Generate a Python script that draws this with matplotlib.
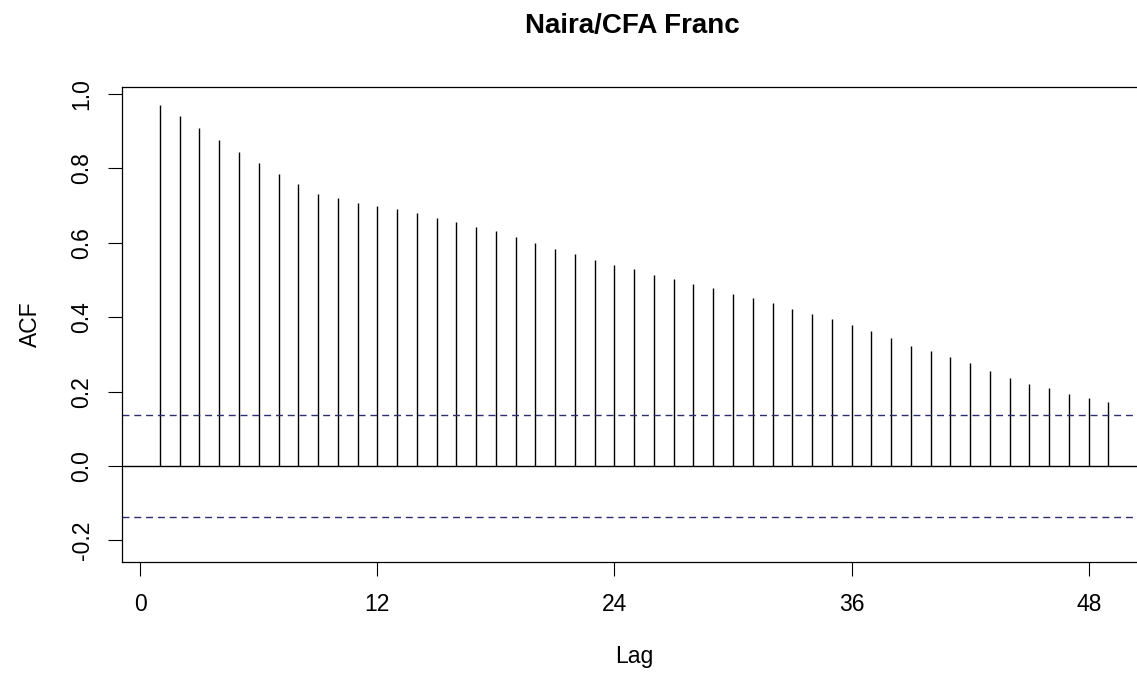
import matplotlib
matplotlib.use('Agg')
import matplotlib.pyplot as plt

# ACF values
lags = list(range(1, 50))
acf_vals = [0.970, 0.941, 0.908, 0.876, 0.845, 0.814, 0.786, 0.757, 0.730, 0.720,
            0.706, 0.699, 0.690, 0.679, 0.668, 0.656, 0.643, 0.632, 0.616, 0.600,
            0.584, 0.569, 0.553, 0.541, 0.529, 0.513, 0.502, 0.490, 0.478, 0.462,
            0.451, 0.439, 0.423, 0.410, 0.395, 0.379, 0.364, 0.343, 0.324, 0.309,
            0.292, 0.276, 0.256, 0.237, 0.221, 0.209, 0.194, 0.182, 0.171]
conf_bound = 0.136
x_ticks = [0, 12, 24, 36, 48]
y_ticks = [-0.2, 0.0, 0.2, 0.4, 0.6, 0.8, 1.0]
y_tick_labels = ['-0.2', '0.0', '0.2', '0.4', '0.6', '0.8', '1.0']

plt.rcParams['font.family'] = ['Liberation Sans', 'DejaVu Sans']

W, H = 1137, 677
fig = plt.figure(figsize=(W / 100, H / 100), dpi=100)
# plot box in pixels: left 122, top 87, bottom 562, right runs past the image edge
ax = fig.add_axes([122 / W, (H - 562) / H, (1146.4 - 122) / W, (562 - 87) / H])

ax.vlines(lags, 0, acf_vals, color='black', linewidth=1.0)
ax.axhline(0, color='black', linewidth=1.0)
for b in (conf_bound, -conf_bound):
    ax.axhline(b, color='#2e2e6e', linewidth=1.0, linestyle=(0, (5, 3.5)))

ax.set_xlim(-0.92, 50.92)
ax.set_ylim(-0.258, 1.019)
ax.set_xticks(x_ticks)
ax.set_xticklabels([str(t) for t in x_ticks])
ax.set_yticks(y_ticks)
ax.set_yticklabels(y_tick_labels)

for s in ax.spines.values():
    s.set_linewidth(0.9)
ax.tick_params(axis='both', direction='out', length=10, width=0.8,
               labelsize=16.5, colors='black')
ax.tick_params(axis='x', pad=12)
ax.tick_params(axis='y', pad=10.5, labelrotation=90)
for lab in ax.get_yticklabels():
    lab.set_va('center')

ax.set_xlabel('Lag', fontsize=16.5)
ax.set_ylabel('ACF', fontsize=16.5)
ax.xaxis.set_label_coords(0.5, -0.174)
ax.yaxis.set_label_coords(-0.078, 0.5)

fig.text(632.5 / W, 1 - 33 / H, 'Naira/CFA Franc', ha='center', va='baseline',
         fontsize=20, fontweight='bold')

fig.savefig('out.png', dpi=100)
